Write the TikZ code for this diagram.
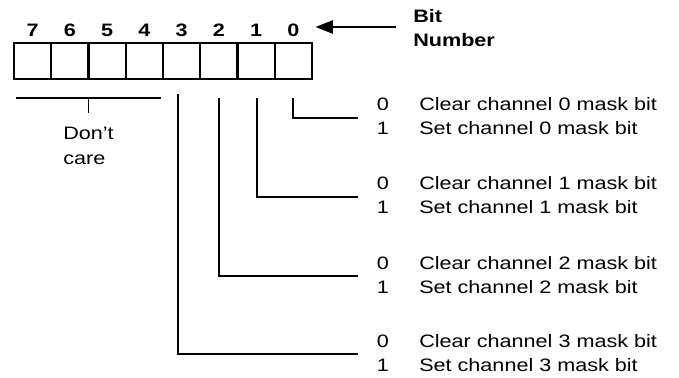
\documentclass[tikz,border=0pt]{standalone}
\usepackage{fontspec}
\setmainfont{Liberation Sans}[FakeStretch=1.2]
\usepackage{tikz}
\usetikzlibrary{arrows.meta, positioning, calc}
\tikzset{
  cell/.style={rectangle, draw, minimum width=27.94pt, minimum height=27pt,
    line width=1.6pt, outer sep=0pt, inner sep=0pt},
  bitnum/.style={font=\fontsize{13.5}{18}\selectfont\bfseries, inner sep=1pt, anchor=base},
  bitlbl/.style={font=\fontsize{13.5}{18}\selectfont\bfseries, inner sep=0pt, anchor=base west},
  lbl/.style={font=\fontsize{13.5}{18}\selectfont, inner sep=0pt, anchor=base west},
  val/.style={font=\fontsize{13.5}{18}\selectfont, inner sep=0pt, anchor=base},
  wire/.style={line width=1.4pt},
  ptr/.style={-{Triangle[length=13pt, width=10pt]}, line width=1.4pt}
}

\begin{document}
\begin{tikzpicture}[x=0.75pt, y=-0.75pt]
  \useasboundingbox (0,0) rectangle (679,378);
  % register cells with their bit numbers
  \foreach \b [count=\k from 0] in {7,6,5,4,3,2,1,0} {
    \node[cell] (b\b) at (32.6+37.25*\k, 61) {};
    \node[bitnum] (n\b) at ($(b\b.north)+(0,-6)$) {\b};
  }
  \node[bitlbl] (bit) at (413,23) {Bit};
  \node[bitlbl] (number) at (413,47) {Number};
  \coordinate (arrowtail) at (396,27);
  \draw[ptr, shorten >=11pt] (arrowtail) -- (arrowtail -| n0.east);

  % bits 7-4
  \coordinate (dcl) at ($(b7.south west)+(2,19)$);
  \coordinate (dcr) at ($(b4.south east)+(-2,19)$);
  \draw[wire] (dcl) -- (dcr);
  \draw[wire] (dcl -| b6.south east) -- ++(0,15);
  \node[lbl] (dont) at (63,140) {Don't};
  \node[lbl] (care) at (63,165) {care};

  % bits 3-0
  \foreach \c/\y/\g/\s in {0/111/19/0, 1/190/19/1, 2/269/19/0, 3/347/15/-4} {
    \node[val] (z\c) at (383,\y) {0};
    \node[val] (o\c) at (383,\y+24) {1};
    \node[lbl] (clr\c) at (419,\y) {Clear channel \c\ mask bit};
    \node[lbl] (set\c) at (419,\y+24) {Set channel \c\ mask bit};
    \coordinate (e\c) at (358,\y+7);
    \draw[wire] ($(b\c.south)+(\s,\g)$) |- (e\c);
  }
\end{tikzpicture}
\end{document}
